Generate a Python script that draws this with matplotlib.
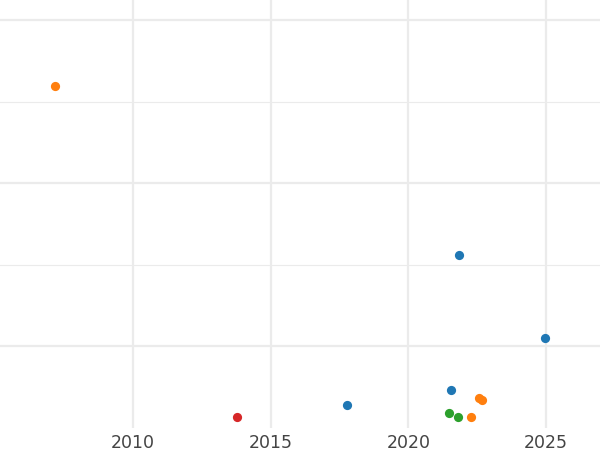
import matplotlib
matplotlib.use('Agg')
import matplotlib.pyplot as plt

# points, grouped by colour
blue_x = [2021.85, 2024.96, 2021.53, 2017.78]
blue_y = [2.12, 1.10, 0.47, 0.28]
orange_x = [2007.16, 2022.55, 2022.69, 2022.29]
orange_y = [4.20, 0.37, 0.34, 0.14]
green_x = [2021.49, 2021.79]
green_y = [0.18, 0.14]
red_x = [2013.78]
red_y = [0.13]

xticks = [2010, 2015, 2020, 2025]

fig = plt.figure(figsize=(6, 4.5), dpi=100)
ax = fig.add_axes([0, 0.049, 1, 0.951])

for xs, ys, c in [(blue_x, blue_y, '#1f77b4'), (orange_x, orange_y, '#ff7f0e'),
                  (green_x, green_y, '#2ca02c'), (red_x, red_y, '#d62728')]:
    ax.scatter(xs, ys, s=44, color=c, zorder=3, linewidths=0)

ax.set_xlim(2005.16, 2026.96)
ax.set_ylim(0, 5.25)
ax.set_xticks(xticks)
ax.set_xticklabels([str(t) for t in xticks])
ax.set_yticks([1, 3, 5])
ax.set_yticks([2, 4], minor=True)
ax.set_yticklabels([])
ax.grid(True, which='major', color='#ebebeb', linewidth=1.6)
ax.grid(True, which='minor', axis='y', color='#ebebeb', linewidth=0.8)
ax.set_axisbelow(True)
ax.tick_params(axis='both', which='both', length=0)
ax.tick_params(axis='x', labelsize=12.5, labelcolor='#444444', pad=4)
for s in ax.spines.values():
    s.set_visible(False)

fig.savefig('out.png', dpi=100)
